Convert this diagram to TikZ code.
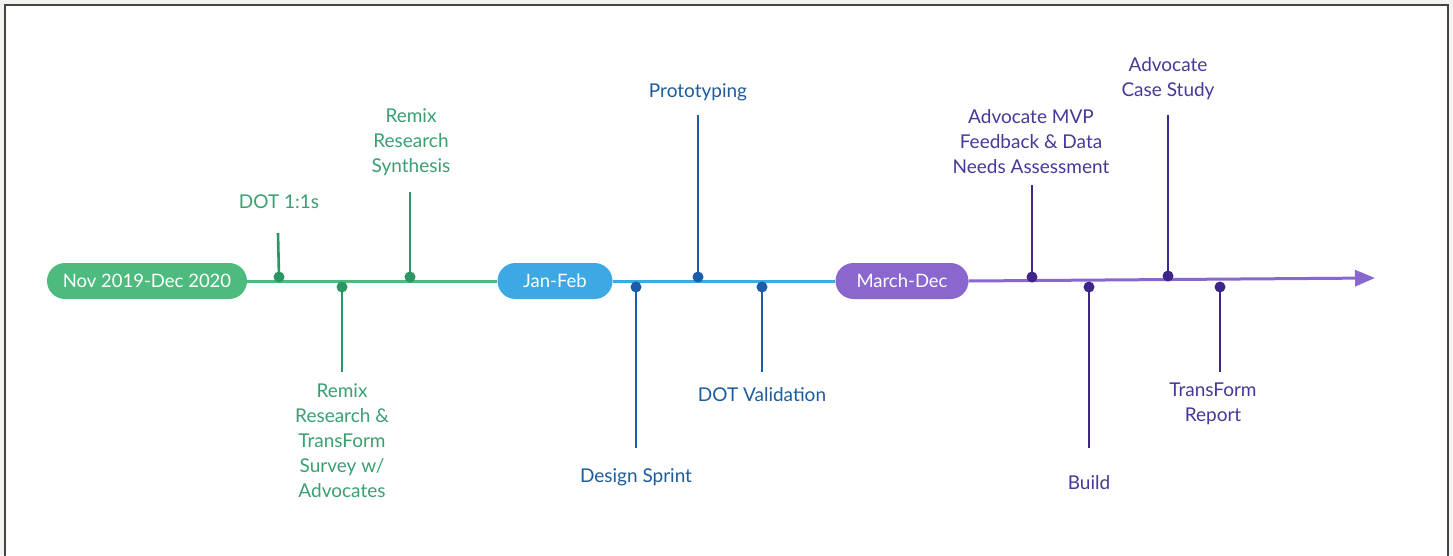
\documentclass[tikz,border=0pt]{standalone}
\usepackage{fontspec}
\setmainfont{Lato}
\usetikzlibrary{arrows.meta}
\definecolor{gpill}{HTML}{4DBB7E}
\definecolor{gdark}{HTML}{2B9662}
\definecolor{gtext}{HTML}{3AA072}
\definecolor{bpill}{HTML}{3DA8E3}
\definecolor{bdark}{HTML}{1D5CA8}
\definecolor{btext}{HTML}{1E5C9C}
\definecolor{ppill}{HTML}{8A67CE}
\definecolor{pdark}{HTML}{3E2688}
\definecolor{ptext}{HTML}{46399A}
\definecolor{outer}{HTML}{F5F3F0}
\definecolor{frame}{HTML}{444444}
\tikzset{
  pill/.style={rounded corners=18pt, minimum height=36pt, inner sep=0pt, text=white, font=\fontsize{18.5}{22}\selectfont, anchor=center},
  lbl/.style={align=center, font=\fontsize{19}{25}\selectfont, inner sep=0pt},
  dotn/.style={circle, inner sep=0pt, minimum size=11pt},
  tick/.style={line width=2.6pt},
  mainline/.style={line width=3pt},
}
\begin{document}
\begin{tikzpicture}[x=1pt,y=-1pt]
\useasboundingbox (0,0) rectangle (1453,555);
\fill[outer] (0,0) rectangle (1453,555);
\fill[white] (5,5) rectangle (1448,560);
\draw[frame, line width=2pt] (5,560) -- (5,5) -- (1448,5) -- (1448,560);

% pills
\node[pill, fill=gpill, minimum width=200pt] (p1) at (147,281) {Nov 2019-Dec 2020};
\node[pill, fill=bpill, minimum width=115pt] (p2) at (555,281) {Jan-Feb};
\node[pill, fill=ppill, minimum width=133pt] (p3) at (902,281) {March-Dec};
\coordinate (tip) at (1375,278);

% main line
\draw[mainline, gpill] (p1.east) -- (p2.west);
\draw[mainline, bpill] (p2.east) -- (p3.west);
\draw[mainline, ppill, -{Triangle[length=20pt,width=16pt]}] (p3.east) -- (tip);

% green events
\node[dotn, fill=gdark] (g1) at (279,277) {};
\coordinate (g1e) at (278,233);
\node[lbl, text=gtext] (g1l) at (279,202) {DOT 1:1s};
\draw[tick, gdark] (g1.center) -- (g1e);

\node[dotn, fill=gdark] (g2) at (342,287) {};
\coordinate (g2e) at (342,372);
\node[lbl, text=gtext, anchor=north] (g2l) at (342,383) {Remix\\Research \&\\TransForm\\Survey w/\\Advocates};
\draw[tick, gdark] (g2.center) -- (g2e);

\node[dotn, fill=gdark] (g3) at (410,277) {};
\coordinate (g3e) at (410,192);
\node[lbl, text=gtext, anchor=south] (g3l) at (411,176) {Remix\\Research\\Synthesis};
\draw[tick, gdark] (g3.center) -- (g3e);

% blue events
\node[dotn, fill=bdark] (b1) at (636,287) {};
\coordinate (b1e) at (636,448);
\node[lbl, text=btext] (b1l) at (636,477) {Design Sprint};
\draw[tick, bdark] (b1.center) -- (b1e);

\node[dotn, fill=bdark] (b2) at (698,277) {};
\coordinate (b2e) at (698,115);
\node[lbl, text=btext] (b2l) at (698,92) {Prototyping};
\draw[tick, bdark] (b2.center) -- (b2e);

\node[dotn, fill=bdark] (b3) at (762,287) {};
\coordinate (b3e) at (762,372);
\node[lbl, text=btext] (b3l) at (762,395) {DOT Validation};
\draw[tick, bdark] (b3.center) -- (b3e);

% purple events
\node[dotn, fill=pdark] (q1) at (1032,277) {};
\coordinate (q1e) at (1032,185);
\node[lbl, text=ptext, anchor=south] (q1l) at (1031,174) {Advocate MVP\\Feedback \& Data\\Needs Assessment};
\draw[tick, pdark] (q1.center) -- (q1e);

\node[dotn, fill=pdark] (q2) at (1089,287) {};
\coordinate (q2e) at (1089,448);
\node[lbl, text=ptext] (q2l) at (1089,483) {Build};
\draw[tick, pdark] (q2.center) -- (q2e);

\node[dotn, fill=pdark] (q3) at (1168,276) {};
\coordinate (q3e) at (1168,115);
\node[lbl, text=ptext, anchor=south] (q3l) at (1168,100) {Advocate\\Case Study};
\draw[tick, pdark] (q3.center) -- (q3e);

\node[dotn, fill=pdark] (q4) at (1220,287) {};
\coordinate (q4e) at (1220,372);
\node[lbl, text=ptext, anchor=north] (q4l) at (1213,383) {TransForm\\Report};
\draw[tick, pdark] (q4.center) -- (q4e);
\end{tikzpicture}
\end{document}
